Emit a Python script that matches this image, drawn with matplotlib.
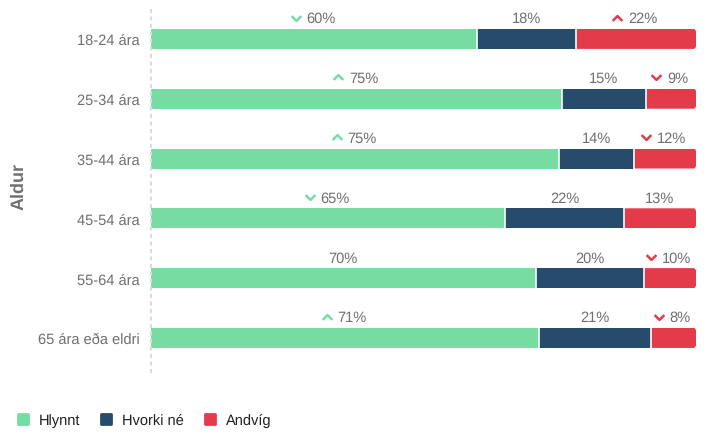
import matplotlib
matplotlib.use('Agg')
import matplotlib.pyplot as plt
from matplotlib.lines import Line2D
from matplotlib.markers import MarkerStyle
from matplotlib.patches import FancyBboxPatch

plt.rcParams['font.family'] = ['Liberation Sans', 'DejaVu Sans']
plt.rcParams['text.hinting'] = 'no_hinting'

ages = ['18-24 ára', '25-34 ára', '35-44 ára', '45-54 ára', '55-64 ára', '65 ára eða eldri']
series_names = ['Hlynnt', 'Hvorki né', 'Andvíg']
colors = ['#76dca1', '#264b6b', '#e43b4b']

# bar widths, they do not always add up with the rounded labels
hlynnt = [59.9, 75.4, 74.9, 65.0, 70.6, 71.2]
hvorki = [18.0, 15.4, 13.7, 21.8, 19.8, 20.5]
andvig = [22.1, 9.2, 11.4, 13.2, 9.6, 8.3]

hlynnt_labels = ['60%', '75%', '75%', '65%', '70%', '71%']
hvorki_labels = ['18%', '15%', '14%', '22%', '20%', '21%']
andvig_labels = ['22%', '9%', '12%', '13%', '10%', '8%']

# change from last time: 1 up, -1 down, 0 nothing shown
hlynnt_arrows = [-1, 1, 1, -1, 0, 1]
hvorki_arrows = [0, 0, 0, 0, 0, 0]
andvig_arrows = [1, -1, -1, 0, -1, -1]

W, H = 713, 435
fig = plt.figure(figsize=(W / 100, H / 100), dpi=100)
ax = fig.add_axes([151 / W, 1 - 373 / H, 545 / W, 363 / H])

ax.set_xlim(0, 100)
ax.set_ylim(5.57, -0.5)
bar_h = 20 / 59.8
y = list(range(len(ages)))

text_color = '#6f6f6f'
px = 100 / 545  # one pixel in x data units
label_y = 0.35 - 0.135 + 0.01

rows = [(hlynnt, hlynnt_labels, hlynnt_arrows), (hvorki, hvorki_labels, hvorki_arrows), (andvig, andvig_labels, andvig_arrows)]
left = [0.0 for _ in ages]
for k, (vals, labels, arrows) in enumerate(rows):
    bars = ax.barh(y, vals, left=left, height=bar_h, color=colors[k], linewidth=0, zorder=2)
    if k == 2:
        # only the red end of the bar has rounded corners
        for b in bars:
            clip = FancyBboxPatch((b.get_x() - 5, b.get_y()), b.get_width() + 5, b.get_height(),
                                  boxstyle='round,pad=0,rounding_size=0.5', mutation_aspect=bar_h / 3,
                                  transform=ax.transData, visible=False)
            ax.add_patch(clip)
            b.set_clip_path(clip)
    for i in y:
        center = left[i] + vals[i] / 2
        if k > 0:
            ax.vlines(left[i], i - bar_h / 2, i + bar_h / 2, color='white', lw=1.2, zorder=3)
        if arrows[i] == 0:
            ax.text(center, i - label_y, labels[i], ha='center', va='bottom', fontsize=10.5, color=text_color)
        else:
            # arrow and text are centred together over the segment
            ax.text(center + 7 * px, i - label_y, labels[i], ha='center', va='bottom', fontsize=10.5, color=text_color)
            tw = 29 if len(labels[i]) == 3 else 21
            mx = center + 7 * px - (tw / 2 + 11) * px
            verts = [(-1, -0.5), (0, 0.5), (1, -0.5)] if arrows[i] > 0 else [(-1, 0.5), (0, -0.5), (1, 0.5)]
            ax.plot([mx], [i - label_y - 0.13], marker=verts, markersize=7, markerfacecolor='none',
                    markeredgecolor=colors[k], markeredgewidth=1.8, linestyle='none', clip_on=False, zorder=4)
    left = [a + b for a, b in zip(left, vals)]

ax.set_yticks(y)
ax.set_yticklabels(ages, fontsize=10.5, color=text_color)
ax.tick_params(axis='y', length=0, pad=8)
ax.set_xticks([])
for s in ['top', 'right', 'bottom']:
    ax.spines[s].set_visible(False)
ax.spines['left'].set_color('#dcdcdc')
ax.spines['left'].set_linewidth(1.5)
ax.spines['left'].set_linestyle((0, (1, 2.6)))

fig.text(19 / W, 1 - 187 / H, 'Aldur', rotation=90, ha='center', va='center',
         fontsize=13, fontweight='bold', color=text_color)

handles = [Line2D([], [], linestyle='none', marker=MarkerStyle('s', joinstyle='round'), markersize=6.5,
                  markerfacecolor=c, markeredgecolor=c, markeredgewidth=2) for c in colors]
fig.legend(handles, series_names, loc='lower left', bbox_to_anchor=(-3 / W, 1 - 440 / H), ncol=3, frameon=False,
           fontsize=10.5, labelcolor='#222222', handletextpad=0.1, columnspacing=0.75, borderpad=0.3)

fig.savefig('out.png', dpi=100)
